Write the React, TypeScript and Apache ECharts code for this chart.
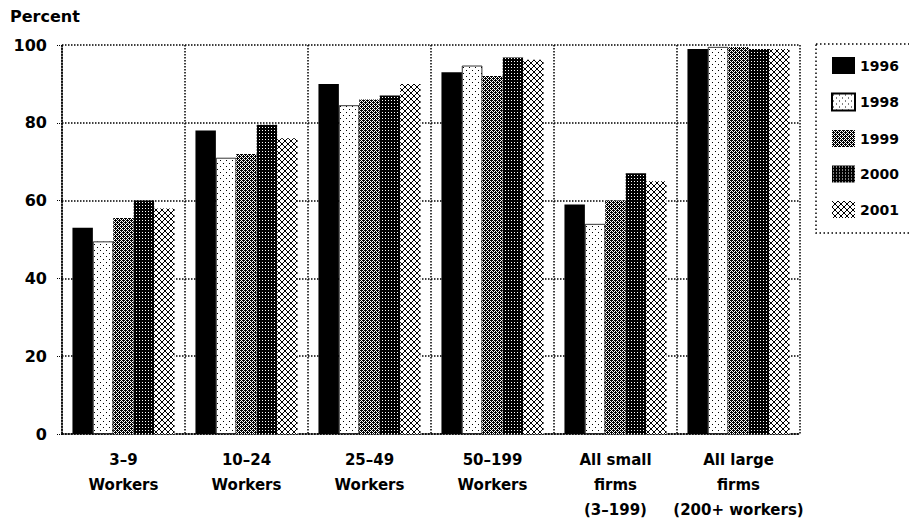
import React, { useEffect, useRef } from "react";
import * as echarts from "echarts";

const categories = [
  "3–9\nWorkers",
  "10–24\nWorkers",
  "25–49\nWorkers",
  "50–199\nWorkers",
  "All small\nfirms\n(3–199)",
  "All large\nfirms\n(200+ workers)",
];
const years = ["1996", "1998", "1999", "2000", "2001"];
const v1996 = [53, 78, 90, 93, 59, 99];
const v1998 = [49.5, 71, 84.5, 94.7, 54, 99.5];
const v1999 = [55.5, 72, 86, 92, 60, 99.5];
const v2000 = [60, 79.5, 87, 96.8, 67, 99];
const v2001 = [58, 76, 90, 96.2, 65, 99];
const seriesValues = [v1996, v1998, v1999, v2000, v2001];
const yTicks = [0, 20, 40, 60, 80, 100];

type Tile = { size: number; on: (x: number, y: number) => boolean };

const tiles: Tile[] = [
  { size: 2, on: () => true },
  { size: 6, on: (x, y) => (x === 1 && y === 1) || (x === 4 && y === 4) },
  { size: 4, on: (x, y) => (x + y) % 2 === 0 || (x === 1 && y === 2) || (x === 3 && y === 0) },
  { size: 3, on: (x, y) => !(x === 1 && y === 1) },
  { size: 6, on: (x, y) => x === y || x + y === 5 },
];

function makePattern(t: Tile): any {
  const n = t.size;
  const c = document.createElement("canvas");
  c.width = n;
  c.height = n;
  const ctx = c.getContext("2d")!;
  ctx.fillStyle = "#fff";
  ctx.fillRect(0, 0, n, n);
  ctx.fillStyle = "#000";
  for (let y = 0; y < t.size; y++)
    for (let x = 0; x < t.size; x++) if (t.on(x, y)) ctx.fillRect(x, y, 1, 1);
  return { image: c.toDataURL(), repeat: "repeat", imageWidth: n, imageHeight: n };
}

export default function App() {
  const ref = useRef<HTMLDivElement>(null);
  useEffect(() => {
    const chart = echarts.init(ref.current!, null, { renderer: "svg" });
    const font = "'DejaVu Sans', Verdana, sans-serif";
    const patterns = tiles.map(makePattern);
    chart.setOption({
      animation: false,
      backgroundColor: "#fff",
      textStyle: { fontFamily: font },
      grid: { left: 62, right: 109, top: 45, bottom: 91, show: false },
      legend: {
        orient: "vertical",
        left: 826,
        top: 52,
        icon: "rect",
        itemWidth: 23,
        itemHeight: 17,
        itemGap: 18.5,
        data: years,
        textStyle: { fontFamily: font, fontWeight: "bold", fontSize: 14, color: "#000" },
      },
      graphic: [
        {
          type: "rect",
          shape: { x: 816, y: 44, width: 110, height: 189 },
          style: { fill: "none", stroke: "#000", lineWidth: 1.5, lineDash: [1.5, 2.5] },
        },
        {
          type: "text",
          left: 10,
          top: 8,
          style: { text: "Percent", font: `bold 16px ${font}`, fill: "#000" },
        },
      ],
      xAxis: {
        type: "category",
        data: categories,
        axisLine: { lineStyle: { color: "#000", type: "dotted", width: 1.5 } },
        axisTick: { show: false },
        splitLine: { show: true, lineStyle: { color: "#000", type: "dotted", width: 1.5 } },
        axisLabel: {
          interval: 0,
          color: "#000",
          fontWeight: "bold",
          fontSize: 15,
          lineHeight: 25,
          margin: 13,
          fontFamily: font,
        },
      },
      yAxis: {
        type: "value",
        min: yTicks[0],
        max: yTicks[yTicks.length - 1],
        interval: 20,
        axisLine: { show: true, lineStyle: { color: "#000", type: "dotted", width: 1.5 } },
        axisTick: { show: true, length: 5, lineStyle: { color: "#000", type: "dotted" } },
        splitLine: { show: true, lineStyle: { color: "#000", type: "dotted", width: 1.5 } },
        axisLabel: { color: "#000", fontWeight: "bold", fontSize: 16, margin: 15, fontFamily: font },
      },
      series: years.map((y, i) => ({
        name: y,
        type: "bar",
        data: seriesValues[i],
        barGap: "0%",
        barCategoryGap: "17%",
        itemStyle: { color: patterns[i], borderColor: "#000", borderWidth: i === 1 ? 0.8 : 0 },
      })),
    });
    return () => chart.dispose();
  }, []);
  return (
    <div
      ref={ref}
      style={{ position: "fixed", left: 0, top: 0, width: 909, height: 525 }}
    />
  );
}
